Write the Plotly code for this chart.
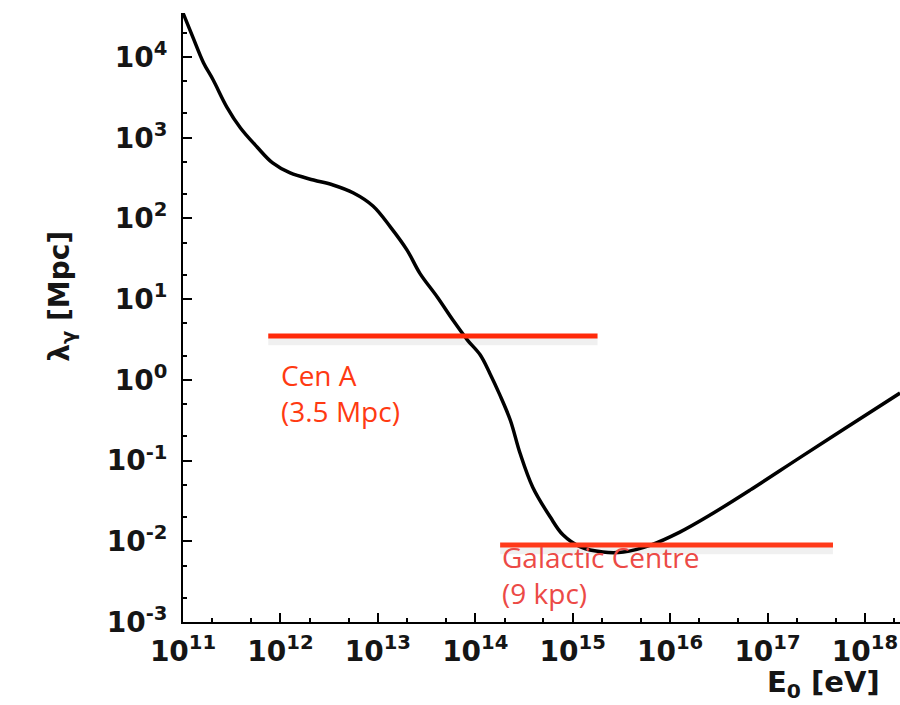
import math
import plotly.graph_objects as go

# Photon interaction length vs. primary energy (log10 values)
log_energy_ev = [11.0, 11.10, 11.21, 11.31, 11.45, 11.59, 11.76, 11.92, 12.10, 12.34,
                 12.54, 12.75, 12.95, 13.13, 13.30, 13.43, 13.61, 13.77, 13.92, 14.05,
                 14.15, 14.25, 14.36, 14.46, 14.59, 14.77, 14.90, 15.08, 15.31,
                 15.52, 15.80, 16.10, 16.41, 16.82, 17.34, 17.85, 18.36]
log_lambda_mpc = [4.545, 4.25, 3.93, 3.715, 3.38, 3.12, 2.885, 2.687, 2.563, 2.476,
                  2.414, 2.315, 2.154, 1.893, 1.608, 1.323, 1.026, 0.741, 0.493, 0.31,
                  0.08, -0.18, -0.50, -0.91, -1.33, -1.70, -1.92, -2.07, -2.134,
                  -2.134, -2.047, -1.886, -1.675, -1.366, -0.957, -0.560, -0.164]

energy = [10 ** v for v in log_energy_ev]
lam = [10 ** v for v in log_lambda_mpc]

# Source distances (Mpc) and the energy span of each marker line
sources = ["Cen A", "Galactic Centre"]
source_labels = ["Cen A<br>(3.5 Mpc)", "Galactic Centre<br>(9 kpc)"]
source_dist_mpc = [3.5, 0.009]
source_e_start = [7.5e11, 1.8e14]
source_e_end = [1.8e15, 4.7e17]
source_colors = ["#FF2A0A", "#FF3A1A"]
label_colors = ["#FF3A12", "#EC4A46"]

# Axis decades and their labels
x_exponents = list(range(11, 19))
y_exponents = list(range(-3, 5))
x_ticktext = [f"10<sup>{n}</sup>" for n in x_exponents]
y_ticktext = [f"10<sup>{n}</sup>" for n in y_exponents]

x_range_log = [11, 18.36]
y_range_log = [-3, 4.545]

fig = go.Figure()

for i, name in enumerate(sources):
    # soft drop shadow under each distance line
    fig.add_trace(go.Scatter(
        x=[source_e_start[i], source_e_end[i]],
        y=[source_dist_mpc[i] * 0.86, source_dist_mpc[i] * 0.86],
        mode="lines", line=dict(color="rgba(0,0,0,0.06)", width=8),
        hoverinfo="skip", showlegend=False))

fig.add_trace(go.Scatter(
    x=energy, y=lam, mode="lines",
    line=dict(color="black", width=3.5, shape="spline", smoothing=1.0),
    showlegend=False, name="lambda_gamma"))

for i, name in enumerate(sources):
    fig.add_trace(go.Scatter(
        x=[source_e_start[i], source_e_end[i]],
        y=[source_dist_mpc[i], source_dist_mpc[i]],
        mode="lines", line=dict(color=source_colors[i], width=5),
        showlegend=False, name=name))

# label block under each marker line
label_yshift = [-18, 9]
label_xshift = [11, 0]
for i, name in enumerate(sources):
    fig.add_annotation(
        x=math.log10(source_e_start[i]), y=math.log10(source_dist_mpc[i]),
        xref="x", yref="y",
        text=source_labels[i], showarrow=False,
        xanchor="left", yanchor="top", align="left",
        xshift=label_xshift[i], yshift=label_yshift[i],
        font=dict(family="Open Sans", size=28, color=label_colors[i]))

axis_common = dict(
    type="log",
    showline=True, linecolor="black", linewidth=2,
    ticks="inside", ticklen=9, tickwidth=2, tickcolor="black",
    minor=dict(ticks="inside", ticklen=4, tickwidth=1.5, tickcolor="black", showgrid=False),
    showgrid=False, zeroline=False, mirror=False,
    tickfont=dict(family="DejaVu Sans", size=28, color="#151515", weight="bold"),
)

fig.update_xaxes(range=x_range_log, tickvals=[10 ** n for n in x_exponents],
                 ticktext=x_ticktext, ticklabelstandoff=3, **axis_common)
fig.update_yaxes(range=y_range_log, tickvals=[10 ** n for n in y_exponents],
                 ticktext=y_ticktext, ticklabelstandoff=8, **axis_common)

fig.add_annotation(
    x=1.0, y=0.0, xref="paper", yref="paper", xanchor="right", yanchor="top",
    xshift=-18, yshift=-41, text="E<sub>0</sub> [eV]", showarrow=False,
    font=dict(family="DejaVu Sans", size=29, color="#151515", weight="bold"))

fig.add_annotation(
    x=-0.17, y=0.535, xref="paper", yref="paper", textangle=-90, xshift=-20,
    text="λ<sub>γ</sub> [Mpc]", showarrow=False,
    font=dict(family="DejaVu Sans", size=28, color="#151515", weight="bold"))

fig.update_layout(
    width=900, height=705,
    margin=dict(l=183, r=0, t=13, b=83),
    paper_bgcolor="white", plot_bgcolor="white",
    showlegend=False,
)

fig.write_html("out.html")
